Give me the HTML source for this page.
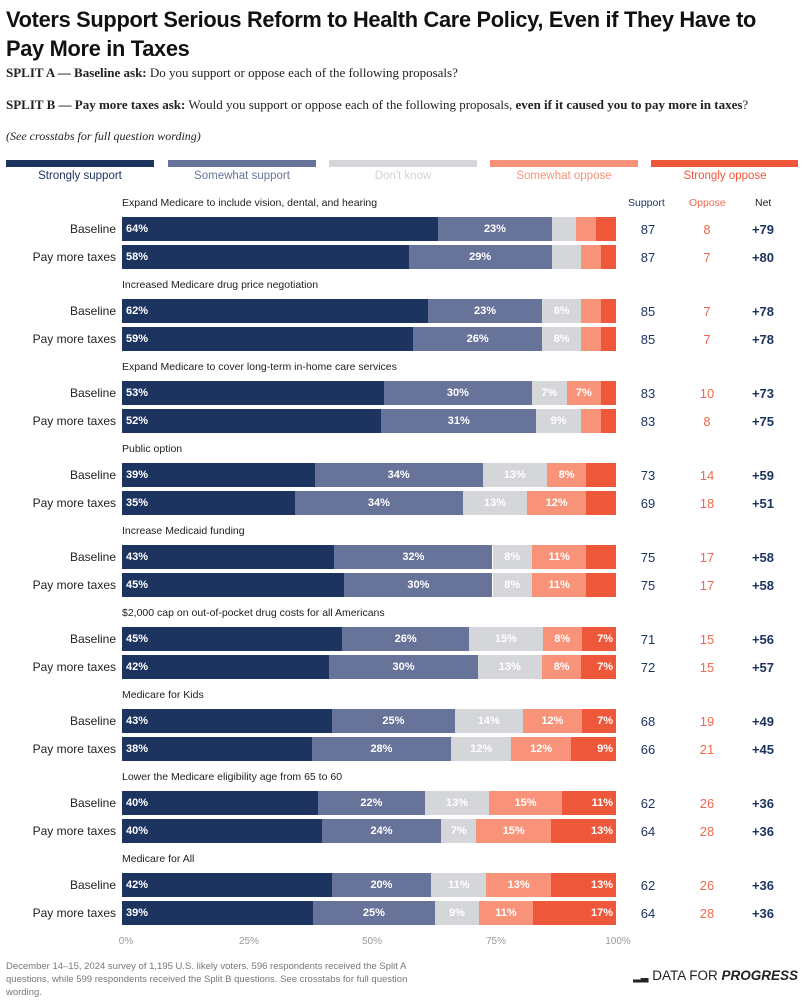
<!DOCTYPE html>
<html><head><meta charset="utf-8"><style>
body{margin:0;width:804px;height:1000px;background:#fff;font-family:"Liberation Sans",sans-serif;position:relative;overflow:hidden}
.a{position:absolute;white-space:nowrap}
.t{left:6px;top:5px;font-size:21.8px;font-weight:bold;color:#111;line-height:29px;letter-spacing:-0.3px}
.s{left:6px;font-family:"Liberation Serif",serif;font-size:13px;color:#222}
.lb{height:7px;top:160px;width:148px}
.ll{top:170px;font-size:11.5px;width:148px;text-align:center}
.seg{position:absolute;top:0;height:24px;color:#fff;font-size:11px;font-weight:bold;line-height:24px;text-align:center}
.g{font-size:10.5px;color:#222}
.rl{font-size:12px;color:#222;text-align:right;width:110px;left:6px}
.n{font-size:13px;text-align:center;width:40px}
.ax{top:936px;font-size:10px;color:#999;width:40px;text-align:center}
</style></head><body>
<div class="a t">Voters Support Serious Reform to Health Care Policy, Even if They Have to<br>Pay More in Taxes</div>
<div class="a s" style="top:65px"><b>SPLIT A — Baseline ask:</b> Do you support or oppose each of the following proposals?</div>
<div class="a s" style="top:97px"><b>SPLIT B — Pay more taxes ask:</b> Would you support or oppose each of the following proposals, <b>even if it caused you to pay more in taxes</b>?</div>
<div class="a s" style="top:129px;font-style:italic;font-size:12px">(See crosstabs for full question wording)</div>
<div class="a lb" style="left:6px;background:#1d3461"></div>
<div class="a lb" style="left:168px;background:#68739a"></div>
<div class="a lb" style="left:329px;background:#d4d6da"></div>
<div class="a lb" style="left:490px;background:#f8937a"></div>
<div class="a lb" style="left:651px;background:#ef573b;width:147px"></div>
<div class="a ll" style="left:6px;color:#1d3461">Strongly support</div>
<div class="a ll" style="left:168px;color:#68739a">Somewhat support</div>
<div class="a ll" style="left:329px;color:#d0d2d6">Don't know</div>
<div class="a ll" style="left:490px;color:#f8937a">Somewhat oppose</div>
<div class="a ll" style="left:651px;color:#ef573b">Strongly oppose</div>
<div class="a g" style="left:628px;top:197px;color:#1d3461">Support</div>
<div class="a g" style="left:689px;top:197px;color:#ef6a50">Oppose</div>
<div class="a g" style="left:755px;top:197px;color:#222">Net</div>
<div id="c"></div>
<div class="a ax" style="left:106px">0%</div>
<div class="a ax" style="left:229px">25%</div>
<div class="a ax" style="left:352px">50%</div>
<div class="a ax" style="left:476px">75%</div>
<div class="a ax" style="left:598px">100%</div>
<div class="a" style="left:6px;top:960px;font-size:9.5px;color:#777;line-height:13px;white-space:normal;width:410px">December 14–15, 2024 survey of 1,195 U.S. likely voters. 596 respondents received the Split A questions, while 599 respondents received the Split B questions. See crosstabs for full question wording.</div>
<div class="a" style="right:6px;top:968px;font-size:13.5px;color:#222"><span style="font-size:10px">&#9602;&#9603;</span> DATA FOR <b><i>PROGRESS</i></b></div>
<script>
var D=[["Expand Medicare to include vision, dental, and hearing",[64,23,5,4,4,87,8,"+79"],[58,29,6,4,3,87,7,"+80"]],
["Increased Medicare drug price negotiation",[62,23,8,4,3,85,7,"+78"],[59,26,8,4,3,85,7,"+78"]],
["Expand Medicare to cover long-term in-home care services",[53,30,7,7,3,83,10,"+73"],[52,31,9,4,3,83,8,"+75"]],
["Public option",[39,34,13,8,6,73,14,"+59"],[35,34,13,12,6,69,18,"+51"]],
["Increase Medicaid funding",[43,32,8,11,6,75,17,"+58"],[45,30,8,11,6,75,17,"+58"]],
["$2,000 cap on out-of-pocket drug costs for all Americans",[45,26,15,8,7,71,15,"+56"],[42,30,13,8,7,72,15,"+57"]],
["Medicare for Kids",[43,25,14,12,7,68,19,"+49"],[38,28,12,12,9,66,21,"+45"]],
["Lower the Medicare eligibility age from 65 to 60",[40,22,13,15,11,62,26,"+36"],[40,24,7,15,13,64,28,"+36"]],
["Medicare for All",[42,20,11,13,13,62,26,"+36"],[39,25,9,11,17,64,28,"+36"]]];
var C=["#1d3461","#68739a","#d4d6da","#f8937a","#ef573b"],h="";
D.forEach(function(g,i){var y=197+i*82;
h+='<div class="a g" style="left:122px;top:'+y+'px">'+g[0]+'</div>';
[g[1],g[2]].forEach(function(r,j){var by=y+20+j*28,tot=r[0]+r[1]+r[2]+r[3]+r[4],x=0;
h+='<div class="a rl" style="top:'+(by+5)+'px">'+(j?"Pay more taxes":"Baseline")+'</div>';
h+='<div class="a" style="left:122px;top:'+by+'px;width:494px;height:24px">';
for(var k=0;k<5;k++){var w=r[k]/tot*494;var lab=(k<2&&r[k]>=5)||(k>=2&&r[k]>=7)?r[k]+'%':'';
var st=k==0?'text-align:left;padding-left:4px;box-sizing:border-box;':(k==4?'text-align:right;padding-right:3px;box-sizing:border-box;':'');
h+='<div class="seg" style="left:'+x+'px;width:'+w+'px;background:'+C[k]+';'+st+'">'+lab+'</div>';x+=w;}
h+='</div>';
h+='<div class="a n" style="left:628px;top:'+(by+5)+'px;color:#1d3461">'+r[5]+'</div>';
h+='<div class="a n" style="left:687px;top:'+(by+5)+'px;color:#ef6a50">'+r[6]+'</div>';
h+='<div class="a n" style="left:743px;top:'+(by+5)+'px;color:#1d3461;font-weight:bold">'+r[7]+'</div>';});});
document.getElementById("c").innerHTML=h;
</script>
</body></html>
